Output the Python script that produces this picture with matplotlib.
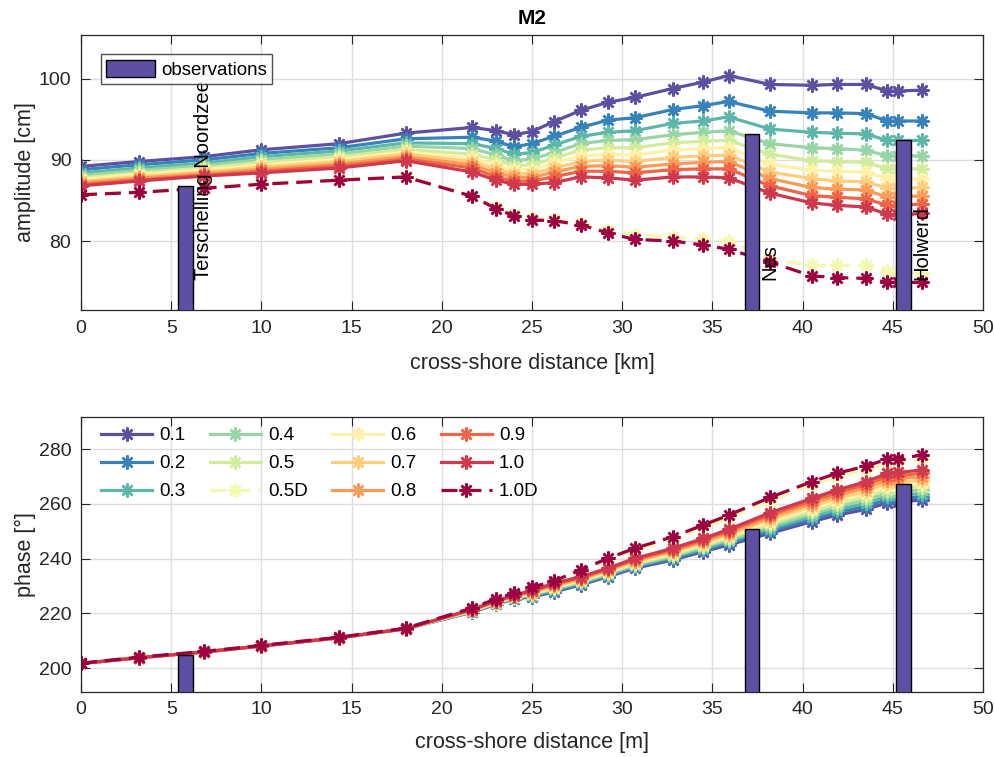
import numpy as np
import matplotlib
matplotlib.use('Agg')
import matplotlib.pyplot as plt

plt.rcParams['font.family'] = ['Liberation Sans', 'DejaVu Sans']

# cross-shore positions of the model output points [km]
x_km = [0, 3.2, 6.8, 10.0, 14.3, 18.0, 21.7, 23.0, 24.0, 25.0, 26.2, 27.7,
        29.2, 30.7, 32.8, 34.5, 35.9, 38.2, 40.5, 41.9, 43.5, 44.7, 45.3, 46.6]

run_labels = ['0.1', '0.2', '0.3', '0.4', '0.5', '0.5D',
              '0.6', '0.7', '0.8', '0.9', '1.0', '1.0D']

# M2 amplitude [cm]
amp_01 = [89.2, 89.8, 90.4, 91.25, 92.0, 93.3, 94.0, 93.6, 93.1, 93.5, 94.7, 96.1,
          97.1, 97.7, 98.8, 99.6, 100.4, 99.3, 99.2, 99.3, 99.3, 98.5, 98.5, 98.6]
amp_02 = [88.8, 89.4, 90.0, 90.8, 91.5, 92.6, 92.8, 92.3, 91.6, 92.0, 92.9, 94.0,
          94.9, 95.2, 96.2, 96.7, 97.2, 96.0, 95.8, 95.8, 95.7, 94.8, 94.8, 94.8]
amp_03 = [88.4, 89.0, 89.6, 90.4, 91.1, 92.1, 92.0, 91.4, 90.7, 90.9, 91.8, 92.9,
          93.4, 93.6, 94.5, 94.8, 95.3, 93.8, 93.4, 93.3, 93.2, 92.4, 92.4, 92.4]
amp_04 = [88.1, 88.7, 89.3, 90.0, 90.7, 91.7, 91.4, 90.6, 89.9, 90.1, 90.9, 92.0,
          92.4, 92.5, 93.1, 93.4, 93.6, 92.0, 91.5, 91.4, 91.2, 90.5, 90.5, 90.5]
amp_05 = [87.8, 88.4, 89.0, 89.7, 90.4, 91.3, 90.7, 90.0, 89.3, 89.4, 90.2, 91.2,
          91.5, 91.5, 92.1, 92.3, 92.4, 90.7, 89.9, 89.8, 89.7, 88.9, 88.9, 88.9]
amp_05D = [85.8, 86.1, 86.6, 87.1, 87.6, 88.0, 85.6, 84.2, 83.3, 82.8, 82.7, 82.2,
           81.4, 80.8, 80.5, 80.2, 80.0, 77.8, 77.0, 77.0, 77.0, 76.3, 76.2, 76.0]
amp_06 = [87.6, 88.2, 88.8, 89.4, 90.1, 91.0, 90.2, 89.4, 88.8, 88.8, 89.6, 90.5,
          90.7, 90.6, 91.2, 91.4, 91.5, 89.5, 88.7, 88.6, 88.5, 87.7, 87.7, 87.7]
amp_07 = [87.35, 87.95, 88.5, 89.1, 89.8, 90.7, 89.8, 88.9, 88.3, 88.3, 89.0, 89.8,
          90.0, 89.8, 90.3, 90.5, 90.6, 88.5, 87.7, 87.4, 87.3, 86.5, 86.5, 86.6]
amp_08 = [87.15, 87.75, 88.3, 88.85, 89.5, 90.4, 89.4, 88.4, 87.9, 87.8, 88.5, 89.2,
          89.3, 89.1, 89.5, 89.7, 89.8, 87.7, 86.6, 86.4, 86.3, 85.4, 85.4, 85.6]
amp_09 = [86.95, 87.55, 88.1, 88.6, 89.25, 90.1, 89.0, 87.9, 87.4, 87.4, 87.9, 88.6,
          88.6, 88.4, 88.8, 88.9, 88.9, 86.8, 85.6, 85.4, 85.2, 84.4, 84.3, 84.6]
amp_10 = [86.8, 87.4, 88.0, 88.4, 89.0, 89.9, 88.5, 87.5, 87.0, 87.0, 87.2, 87.9,
          87.8, 87.5, 87.9, 87.9, 87.8, 85.9, 84.7, 84.4, 84.2, 83.3, 83.2, 83.4]
amp_10D = [85.7, 86.0, 86.5, 87.0, 87.5, 87.9, 85.5, 84.0, 83.1, 82.6, 82.5, 82.0,
           81.0, 80.2, 80.0, 79.5, 79.0, 77.4, 75.7, 75.5, 75.4, 74.9, 74.9, 74.9]

# M2 phase [deg]
ph_01 = [201.7, 203.8, 205.9, 208.1, 211.1, 214.4, 220.5, 223.3, 225.3, 226.0, 227.8, 230.4,
         233.4, 236.5, 239.5, 242.6, 245.0, 249.3, 253.5, 255.9, 258.0, 260.4, 260.8, 261.4]
ph_02 = [201.7, 203.8, 205.9, 208.1, 211.1, 214.4, 220.6, 223.4, 225.4, 226.3, 228.2, 230.7,
         233.7, 236.9, 240.0, 243.1, 245.6, 250.1, 254.4, 256.9, 259.1, 261.6, 262.0, 262.6]
ph_03 = [201.7, 203.8, 205.9, 208.1, 211.1, 214.4, 220.7, 223.6, 225.6, 226.5, 228.5, 231.1,
         234.1, 237.3, 240.5, 243.7, 246.3, 251.0, 255.4, 257.9, 260.2, 262.8, 263.2, 263.8]
ph_04 = [201.7, 203.8, 205.9, 208.1, 211.1, 214.4, 220.8, 223.7, 225.7, 226.8, 228.9, 231.4,
         234.4, 237.7, 240.9, 244.2, 246.9, 251.8, 256.3, 259.0, 261.4, 264.0, 264.4, 265.1]
ph_05 = [201.7, 203.8, 205.9, 208.1, 211.1, 214.4, 220.9, 223.9, 225.9, 227.1, 229.2, 231.7,
         234.8, 238.1, 241.4, 244.7, 247.5, 252.6, 257.3, 260.0, 262.5, 265.2, 265.6, 266.3]
ph_05D = [201.8, 204.0, 206.1, 208.3, 211.3, 214.6, 221.8, 225.0, 227.1, 229.2, 231.4, 235.3,
          239.5, 243.1, 247.2, 251.4, 254.9, 261.2, 266.8, 269.8, 272.4, 274.9, 275.1, 276.3]
ph_06 = [201.7, 203.8, 205.9, 208.1, 211.1, 214.4, 221.1, 224.0, 226.0, 227.3, 229.6, 232.1,
         235.1, 238.5, 241.9, 245.3, 248.2, 253.5, 258.2, 261.0, 263.6, 266.4, 266.7, 267.5]
ph_07 = [201.7, 203.8, 205.9, 208.1, 211.1, 214.4, 221.2, 224.2, 226.2, 227.6, 229.9, 232.4,
         235.5, 238.9, 242.4, 245.8, 248.8, 254.3, 259.2, 262.0, 264.7, 267.6, 267.9, 268.7]
ph_08 = [201.7, 203.8, 205.9, 208.1, 211.1, 214.4, 221.3, 224.3, 226.3, 227.9, 230.3, 232.7,
         235.8, 239.3, 242.8, 246.3, 249.4, 255.1, 260.1, 263.1, 265.9, 268.8, 269.1, 270.0]
ph_09 = [201.7, 203.8, 205.9, 208.1, 211.1, 214.4, 221.4, 224.5, 226.5, 228.1, 230.6, 233.1,
         236.2, 239.7, 243.3, 246.9, 250.1, 256.0, 261.1, 264.1, 267.0, 270.0, 270.3, 271.2]
ph_10 = [201.7, 203.8, 205.9, 208.1, 211.1, 214.4, 221.5, 224.6, 226.6, 228.4, 231.0, 233.4,
         236.5, 240.1, 243.8, 247.4, 250.7, 256.8, 262.0, 265.1, 268.1, 271.2, 271.5, 272.4]
ph_10D = [201.8, 204.0, 206.1, 208.3, 211.3, 214.6, 222.0, 225.3, 227.4, 229.6, 231.8, 235.9,
          240.1, 243.8, 248.0, 252.3, 255.9, 262.4, 268.1, 271.2, 273.8, 276.4, 276.6, 277.8]

amp_runs = [amp_01, amp_02, amp_03, amp_04, amp_05, amp_05D,
            amp_06, amp_07, amp_08, amp_09, amp_10, amp_10D]
ph_runs = [ph_01, ph_02, ph_03, ph_04, ph_05, ph_05D,
           ph_06, ph_07, ph_08, ph_09, ph_10, ph_10D]

# tide gauge observations
stations = ['Terschelling Noordzee', 'Nes', 'Holwerd']
obs_x = [5.8, 37.2, 45.6]
obs_amp = [86.8, 93.2, 92.5]
obs_phase = [204.9, 250.8, 267.2]

colors = plt.cm.Spectral_r(np.linspace(0, 1, len(run_labels)))
txt_col = '#262626'
bar_col = '#5e4fa2'

fig = plt.figure(figsize=(9.95, 7.57), dpi=100)
ax1 = fig.add_axes([0.0814, 0.5905, 0.9065, 0.3633])
ax2 = fig.add_axes([0.0814, 0.0863, 0.9065, 0.3633])


def style_axes(ax):
    ax.set_xlim(0, 50)
    ax.set_xticks(np.arange(0, 51, 5))
    ax.grid(True, color='#dedede', linewidth=1.0)
    ax.set_axisbelow(True)
    ax.tick_params(direction='in', length=6.5, width=0.8, top=True, right=True,
                   labelsize=14, colors=txt_col, pad=7)
    for s in ax.spines.values():
        s.set_color(txt_col)
        s.set_linewidth(0.9)


def draw_runs(ax, runs):
    handles = []
    for lab, y, c in zip(run_labels, runs, colors):
        ls = (0, (5, 2.5)) if lab.endswith('D') else '-'
        h, = ax.plot(x_km, y, color=c, linestyle=ls, linewidth=2.3,
                     marker=(8, 2, 0), markersize=10, markeredgewidth=1.8,
                     label=lab, zorder=2)
        handles.append(h)
    return handles


# amplitude
draw_runs(ax1, amp_runs)
bars = ax1.bar(obs_x, obs_amp, width=0.8, color=bar_col, edgecolor='black',
               linewidth=1.0, zorder=3, label='observations')
for name, xs in zip(stations, obs_x):
    ax1.text(xs + 1.0, 75.2, name, rotation=90, ha='center', va='bottom',
             fontsize=14.5, color='black', zorder=4)
style_axes(ax1)
ax1.set_ylim(71.5, 105.4)
ax1.set_yticks([80, 90, 100])
ax1.set_xlabel('cross-shore distance [km]', fontsize=15.5, color=txt_col, labelpad=12)
ax1.set_ylabel('amplitude [cm]', fontsize=15.5, color=txt_col, labelpad=2)
ax1.set_title('M2', fontsize=15, fontweight='bold', color='black', pad=8)
leg1 = ax1.legend(handles=[bars], loc='upper left', bbox_to_anchor=(0.022, 0.93),
                  fontsize=13.5, frameon=True, fancybox=False, edgecolor=txt_col,
                  handlelength=2.6, handleheight=1.0, handletextpad=0.3,
                  borderpad=0.3, borderaxespad=0.0)
leg1.get_frame().set_linewidth(1.0)
leg1.set_zorder(5)

# phase
h2 = draw_runs(ax2, ph_runs)
ax2.bar(obs_x, obs_phase, width=0.8, color=bar_col, edgecolor='black',
        linewidth=1.0, zorder=3)
style_axes(ax2)
ax2.set_ylim(191.4, 291.9)
ax2.set_yticks(np.arange(200, 281, 20))
ax2.set_xlabel('cross-shore distance [m]', fontsize=15.5, color=txt_col, labelpad=10)
ax2.set_ylabel('phase [°]', fontsize=15.5, color=txt_col, labelpad=2)
leg2 = ax2.legend(handles=h2, ncol=4, loc='upper left', bbox_to_anchor=(0.011, 1.0),
                  fontsize=13.5, frameon=False, handlelength=2.7, handletextpad=0.4,
                  columnspacing=1.3, labelspacing=0.58, borderpad=0.55,
                  borderaxespad=0.0)
for t in leg2.get_texts():
    t.set_color('black')

fig.savefig('out.png', dpi=100)
